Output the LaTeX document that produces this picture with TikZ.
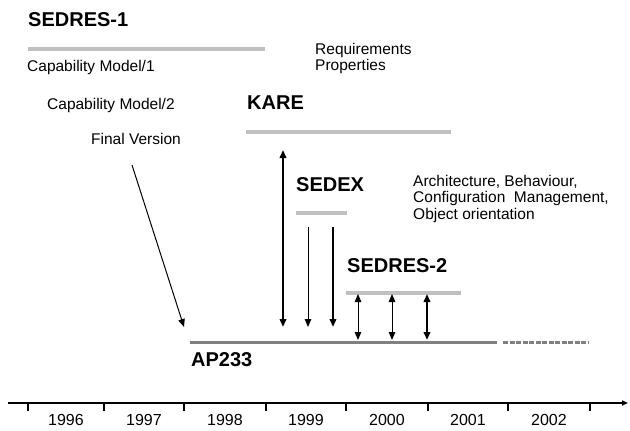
\documentclass[tikz,border=0pt]{standalone}
\usepackage{fontspec}
\setmainfont{Liberation Sans}
\usetikzlibrary{arrows.meta}
\usetikzlibrary{calc}
\definecolor{barGray}{HTML}{C0C0C0}
\definecolor{lineGray}{HTML}{808080}

\begin{document}
\begin{tikzpicture}[line cap=butt,
  x=1pt,y=-1pt,        % pixel like axes, origin top left
  pbar/.style={line width=4pt,barGray},
  proj/.style={anchor=base west,inner sep=0pt,font=\fontsize{20}{22}\selectfont\bfseries},
  note/.style={anchor=north west,inner sep=0pt,align=left,font=\fontsize{15.5}{16.5}\selectfont},
  yearlbl/.style={anchor=base,inner sep=0pt,font=\fontsize{16}{18}\selectfont},
  thin link/.style={line width=1pt},
  thick link/.style={line width=2.5pt},
  >={Triangle[length=8pt,width=6.5pt]},
  ]
  \useasboundingbox (0,0) rectangle (630,431);
  \def\ya{342}  % AP233 line height
  \def\yt{403}  % time axis height
  % SEDRES-1
  \node[proj] (sedresA) at (28,27) {SEDRES-1};
  \coordinate (sedresAl) at (28,49);
  \coordinate (sedresAr) at (265,49);
  \draw[pbar] (sedresAl) -- (sedresAr);
  \node[note] (capA)  at (27,60)  {Capability Model/1};
  \node[note] (capB)  at (47,98)  {Capability Model/2};
  \node[note] (final) at (91,133) {Final Version};
  \node[note] (req)   at (315,43) {Requirements\\Properties};
  % KARE
  \node[proj] (kare) at (247,109) {KARE};
  \coordinate (karel) at (246,132);
  \coordinate (karer) at (451,132);
  \draw[pbar] (karel) -- (karer);
  % SEDEX
  \node[proj] (sedex) at (296,191) {SEDEX};
  \coordinate (sedexl) at (296,213);
  \coordinate (sedexr) at (347,213);
  \draw[pbar] (sedexl) -- (sedexr);
  \node[note] (arch) at (413,175) {Architecture, Behaviour,\\Configuration~ Management,\\Object orientation};
  % SEDRES-2
  \node[proj] (sedresB) at (347,272) {SEDRES-2};
  \coordinate (sedresBl) at (346,293);
  \coordinate (sedresBr) at (461,293);
  \draw[pbar] (sedresBl) -- (sedresBr);
  % AP233
  \coordinate (apl) at (190,\ya);
  \coordinate (apr) at (497,\ya);
  \coordinate (ape) at (588,\ya);
  \draw[line width=3pt,lineGray] (apl) -- (apr);
  \draw[line width=3pt,lineGray,dash pattern=on 5pt off 1.5pt] ($(apr)+(6,0)$) -- (ape);
  \node[proj] (ap) at (191,366) {AP233};
  % links
  \coordinate (finS) at (132,165);
  \coordinate (finE) at (184,327);
  \draw[thin link,->] (finS) -- (finE);
  \coordinate (kareS) at (283,150);
  \coordinate (kareE) at (283,327);
  \draw[thick link,<->] (kareS) -- (kareE);
  \foreach \x/\w in {308/thin,333/thick}{
    \coordinate (sedexS\x) at (\x,227);
    \coordinate (sedexE\x) at (\x,327);
    \draw[\w\space link,->] (sedexS\x) -- (sedexE\x);
  }
  \foreach \x/\w in {358/thin,392/thin,427/thick}{
    \coordinate (sedresS\x) at (\x,294);
    \coordinate (sedresE\x) at (\x,340);
    \draw[\w\space link,<->] (sedresS\x) -- (sedresE\x);
  }
  % TIME AXIS
  \coordinate (t0) at (8,\yt);
  \coordinate (t1) at (628,\yt);
  \draw[line width=1.5pt,-{Triangle[length=6pt,width=5pt]}] (t0) -- (t1);
  \foreach \x in {28,104,184,266,346,428,508,590}
    \draw[line width=1.5pt] (\x,\yt) -- (\x,\yt+8);
  \foreach \a/\b/\yr in {28/104/1996,104/184/1997,184/266/1998,266/346/1999,346/428/2000,428/508/2001,508/590/2002}
    \node[yearlbl] (y\yr) at ({(\a+\b)/2},425) {\yr};
\end{tikzpicture}
\end{document}
